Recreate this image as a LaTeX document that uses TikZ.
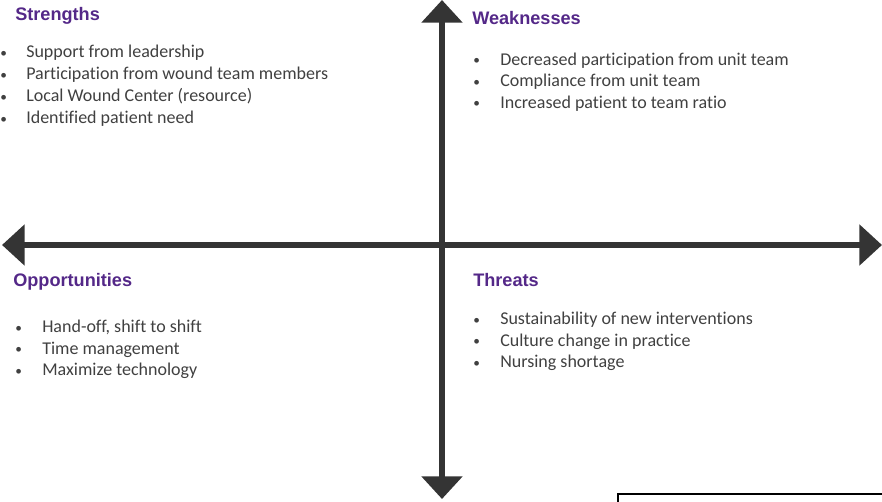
\documentclass[tikz,border=0pt]{standalone}
\usepackage{fontspec}
\setmainfont{Carlito}[Ligatures=CommonOff]
\newfontfamily\headfont{Liberation Sans}
\usetikzlibrary{arrows.meta}

\definecolor{swotpurple}{RGB}{84,40,136}
\definecolor{itemgray}{RGB}{64,64,64}
\definecolor{axisgray}{RGB}{52,52,52}

\tikzset{
  heading/.style={anchor=base west, inner sep=0pt, text=swotpurple,
    font=\headfont\bfseries\fontsize{13.6}{16}\selectfont},
  item/.style={anchor=base west, inner sep=0pt, text=itemgray,
    font=\fontsize{13.5}{16}\selectfont},
  bullet/.style={anchor=base west, inner sep=0pt, text=itemgray,
    font=\fontsize{10}{12}\selectfont, yshift=0.6pt},
  axis/.style={line width=5.2pt, draw=axisgray,
    {Triangle[width=30pt,length=17pt]}-{Triangle[width=30pt,length=17pt]}}
}

\begin{document}
\begin{tikzpicture}[x=0.75pt,y=-0.75pt]
  \useasboundingbox (0,0) rectangle (882,502);

  % the two axes
  \coordinate (top) at (442,0);
  \coordinate (bottom) at (442,499);
  \coordinate (left) at (2,245);
  \coordinate (right) at (882,245);
  \draw[axis] (bottom) -- (top);
  \draw[axis] (left) -- (right);

  % strengths, upper left
  \node[heading] (strengths) at (15,21) {Strengths};
  \foreach \txt [count=\i] in {Support\ from leadership,
      Participation from wound team members,
      Local Wound Center (resource),
      Identified patient need} {
    \node[bullet] (sb\i) at (0,{36+22*\i}) {\textbullet};
    \node[item] (s\i) at (26,{36+22*\i}) {\txt};
  }

  % weaknesses, upper right
  \node[heading] (weaknesses) at (472,25) {Weaknesses};
  \foreach \txt [count=\i] in {Decreased participation from unit team,
      Compliance from unit team,
      Increased patient to team ratio} {
    \node[bullet] (wb\i) at (473,{44+21.5*\i}) {\textbullet};
    \node[item] (w\i) at (500,{44+21.5*\i}) {\txt};
  }

  % opportunities, lower left
  \node[heading] (opportunities) at (13,287) {Opportunities};
  \foreach \txt [count=\i] in {{Hand-off, shift to shift},
      Time management,
      Maximize technology} {
    \node[bullet] (ob\i) at (15,{311.5+21.5*\i}) {\textbullet};
    \node[item] (o\i) at (42,{311.5+21.5*\i}) {\txt};
  }

  % threats, lower right
  \node[heading] (threats) at (473,287) {Threats};
  \foreach \txt [count=\i] in {Sustainability of new interventions,
      Culture change in practice,
      Nursing shortage} {
    \node[bullet] (tb\i) at (473,{303.5+21.5*\i}) {\textbullet};
    \node[item] (t\i) at (500,{303.5+21.5*\i}) {\txt};
  }

  % edge of a box cut off at the corner
  \draw[line width=1.5pt] (618,504) -- (618,494) -- (884,494);
\end{tikzpicture}
\end{document}
